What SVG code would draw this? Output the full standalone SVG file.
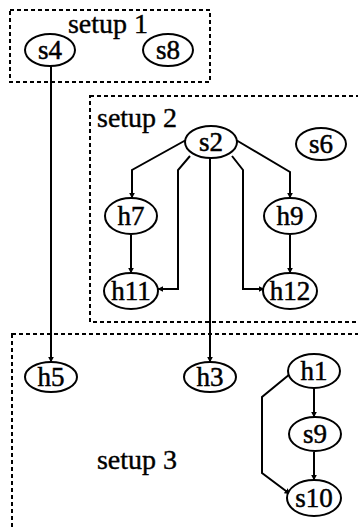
<svg xmlns="http://www.w3.org/2000/svg" width="358" height="530" viewBox="0 0 358 530">
<style>
.box{fill:none;stroke:#000;stroke-width:2;stroke-dasharray:4 3}
.node ellipse{fill:#fff;stroke:#000;stroke-width:2}
.node text{font-family:"Liberation Serif","Times New Roman",serif;font-size:27px;text-anchor:middle;fill:#000;stroke:#000;stroke-width:0.5}
.lbl{font-family:"Liberation Serif","Times New Roman",serif;font-size:28px;fill:#000;stroke:#000;stroke-width:0.4}
.edge{fill:none;stroke:#000;stroke-width:2;marker-end:url(#ah)}
</style>
<defs>
<marker id="ah" viewBox="0 0 10 10" refX="9" refY="5" markerWidth="6" markerHeight="6" markerUnits="userSpaceOnUse" orient="auto">
<path d="M0,0 L10,5 L0,10 z" fill="#000"/>
</marker>
</defs>
<rect width="358" height="530" fill="#fff"/>
<g id="setup1">
<rect class="box" x="10" y="10" width="200" height="72"/>
<text class="lbl" x="108" y="33" text-anchor="middle">setup 1</text>
</g>
<g id="setup2">
<rect class="box" x="90" y="96" width="272" height="226"/>
<text class="lbl" x="97" y="127">setup 2</text>
</g>
<g id="setup3">
<rect class="box" x="12" y="334" width="352" height="210"/>
<text class="lbl" x="137" y="469" text-anchor="middle">setup 3</text>
</g>
<g id="connectors">
<path class="edge" d="M51,66 L51,362"/>
<path class="edge" d="M186,140 L132,170 L132,198"/>
<path class="edge" d="M236,140 L290,172 L290,198"/>
<path class="edge" d="M190,156 L178,170 L178,289 L158,289"/>
<path class="edge" d="M232,156 L243,170 L243,289 L264,289"/>
<path class="edge" d="M210,158 L210,362"/>
<path class="edge" d="M131,235 L131,273"/>
<path class="edge" d="M290,235 L290,273"/>
<path class="edge" d="M314,388 L314,417"/>
<path class="edge" d="M314,452 L314,480"/>
<path class="edge" d="M290,374 L262,397 L262,473 L290,494"/>
</g>
<g id="s4" class="node"><ellipse cx="50" cy="50" rx="25" ry="16"/><text x="50" y="59">s4</text></g>
<g id="s8" class="node"><ellipse cx="168" cy="50" rx="25" ry="16"/><text x="168" y="59">s8</text></g>
<g id="s2" class="node"><ellipse cx="211" cy="142" rx="26" ry="16"/><text x="211" y="151">s2</text></g>
<g id="s6" class="node"><ellipse cx="321" cy="144" rx="25" ry="16"/><text x="321" y="153">s6</text></g>
<g id="h7" class="node"><ellipse cx="131" cy="216" rx="26" ry="18"/><text x="131" y="225">h7</text></g>
<g id="h9" class="node"><ellipse cx="290" cy="216" rx="26" ry="18"/><text x="290" y="225">h9</text></g>
<g id="h11" class="node"><ellipse cx="131" cy="291" rx="27" ry="18"/><text x="131" y="300">h11</text></g>
<g id="h12" class="node"><ellipse cx="290" cy="291" rx="27" ry="18"/><text x="290" y="300">h12</text></g>
<g id="h5" class="node"><ellipse cx="51" cy="377" rx="26" ry="15"/><text x="51" y="386">h5</text></g>
<g id="h3" class="node"><ellipse cx="210" cy="377" rx="26" ry="15"/><text x="210" y="386">h3</text></g>
<g id="h1" class="node"><ellipse cx="314" cy="371" rx="26" ry="17"/><text x="314" y="380">h1</text></g>
<g id="s9" class="node"><ellipse cx="315" cy="434" rx="26" ry="17"/><text x="315" y="443">s9</text></g>
<g id="s10" class="node"><ellipse cx="314" cy="498" rx="27" ry="18"/><text x="314" y="507">s10</text></g>
</svg>
